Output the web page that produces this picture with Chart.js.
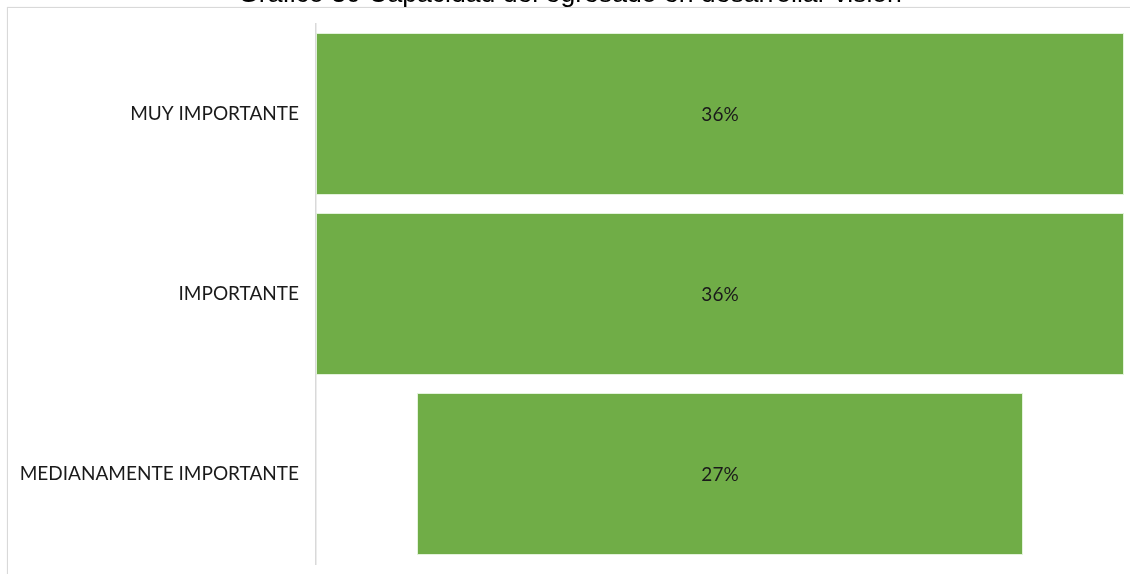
<!DOCTYPE html>
<html>
<head>
<meta charset="utf-8">
<script src="https://cdn.jsdelivr.net/npm/chart.js@4"></script>
<style>
  html, body { margin: 0; padding: 0; background: #fff; overflow: hidden; }
  #wrap { position: relative; width: 1130px; height: 574px; overflow: hidden; }
  #frame { position: absolute; left: 7px; top: 7px; width: 1300px; height: 800px;
           border: 1.5px solid #d9d9d9; box-shadow: 0 0 1px #e6e6e6; }
  canvas { position: absolute; left: 0; top: 0; }
</style>
</head>
<body>
<div id="wrap">
  <div id="frame"></div>
  <canvas id="c" width="1130" height="574"></canvas>
</div>
<script>
const titleText = "Gráfico 30 Capacidad del egresado en desarrollar visión";
const categories = ["MUY IMPORTANTE", "IMPORTANTE", "MEDIANAMENTE IMPORTANTE"];
const values = [36, 36, 27];
const valueLabels = ["36%", "36%", "27%"];

const maxVal = Math.max(...values);
const funnelData = values.map(v => [-v / 2, v / 2]);

const labelPlugin = {
  id: 'centerLabels',
  afterDatasetsDraw(chart) {
    const ctx = chart.ctx;
    const meta = chart.getDatasetMeta(0);
    ctx.save();
    ctx.font = '19px Lato';
    ctx.fillStyle = '#1a1a1a';
    ctx.textAlign = 'center';
    ctx.textBaseline = 'middle';
    meta.data.forEach((el, i) => {
      const p = el.getCenterPoint();
      ctx.fillText(valueLabels[i], p.x, p.y + 1);
    });
    ctx.restore();
  }
};

new Chart(document.getElementById('c'), {
  type: 'bar',
  data: {
    labels: categories,
    datasets: [{
      data: funnelData,
      backgroundColor: '#70AD47',
      borderColor: 'rgba(220,240,210,0.8)',
      borderWidth: 1,
      borderSkipped: false,
      barPercentage: 0.9,
      categoryPercentage: 1.0
    }]
  },
  options: {
    indexAxis: 'y',
    responsive: false,
    animation: false,
    layout: { padding: { left: 16, right: 6, top: 0, bottom: 10 } },
    plugins: {
      legend: { display: false },
      tooltip: { enabled: false },
      title: {
        display: true,
        text: titleText,
        color: '#000',
        font: { family: 'Liberation Sans', size: 26.6, weight: 'normal', lineHeight: 1.2 },
        padding: { top: -20.9, bottom: 13.0 }
      }
    },
    scales: {
      x: { display: false, min: -maxVal / 2, max: maxVal / 2 },
      y: {
        grid: { display: false, drawTicks: true, tickLength: 17 },
        border: { display: true, color: '#d9d9d9', width: 1.5 },
        ticks: { color: '#1a1a1a', font: { family: 'Lato', size: 19, lineHeight: 1.0 }, padding: 0 },
        afterFit(scale) { scale.width = 300; }
      }
    }
  },
  plugins: [labelPlugin]
});
</script>
</body>
</html>
